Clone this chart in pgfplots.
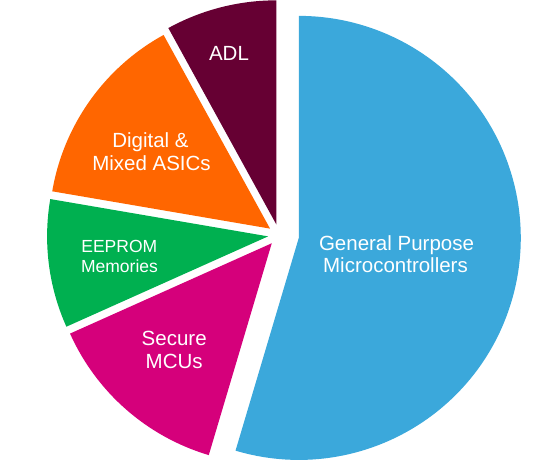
\documentclass[border=0pt]{standalone}
\usepackage{pgfplots}
\pgfplotsset{compat=1.18}
\usetikzlibrary{calc}
\usepackage{fontspec}
\setmainfont{Liberation Sans}
\definecolor{cBlue}{RGB}{59,168,219}
\definecolor{cMag}{RGB}{213,0,123}
\definecolor{cGreen}{RGB}{0,176,80}
\definecolor{cOrange}{RGB}{255,102,0}
\definecolor{cPurple}{RGB}{102,0,51}
% shares (percent), clockwise from 12 o'clock
\def\vA{54.6}% General Purpose Microcontrollers
\def\vB{13.7}% Secure MCUs
\def\vC{9.4}% EEPROM Memories
\def\vD{14.3}% Digital & Mixed ASICs
\def\vE{8.0}% ADL
\pgfmathsetmacro\aA{90}
\pgfmathsetmacro\aB{\aA-3.6*\vA}
\pgfmathsetmacro\aC{\aB-3.6*\vB}
\pgfmathsetmacro\aD{\aC-3.6*\vC}
\pgfmathsetmacro\aE{\aD-3.6*\vD}
\pgfmathsetmacro\aF{\aE-3.6*\vE}
\pgfmathsetmacro\mA{(\aA+\aB)/2}
\pgfmathsetmacro\mB{(\aB+\aC)/2}
\pgfmathsetmacro\mC{(\aC+\aD)/2}
\pgfmathsetmacro\mD{(\aD+\aE)/2}
\pgfmathsetmacro\mE{(\aE+\aF)/2}
\newcommand\lab{\fontsize{20.5bp}{23bp}\selectfont}
\newcommand\labs{\fontsize{17.5bp}{20bp}\selectfont}
\begin{document}%
\begin{tikzpicture}
\useasboundingbox (0,0) rectangle (553bp,463bp);
\clip (0,0) rectangle (553bp,463bp);
\begin{axis}[at={(0,0)}, anchor=south west, hide axis, scale only axis,
  width=553bp, height=463bp, xmin=0, xmax=553, ymin=0, ymax=463, clip=true]
\coordinate (C) at (axis cs:279,228);
\fill[cBlue]   ($(C)+(\mA:20bp)$) -- +(\aB:222bp) arc[start angle=\aB, end angle=\aA, radius=222bp] -- cycle;
\fill[cMag]    ($(C)+(\mB:11bp)$) -- +(\aC:221bp) arc[start angle=\aC, end angle=\aB, radius=221bp] -- cycle;
\fill[cGreen]  ($(C)+(\mC:11bp)$) -- +(\aD:221bp) arc[start angle=\aD, end angle=\aC, radius=221bp] -- cycle;
\fill[cOrange] ($(C)+(\mD:11bp)$) -- +(\aE:221bp) arc[start angle=\aE, end angle=\aD, radius=221bp] -- cycle;
\fill[cPurple] ($(C)+(\mE:11bp)$) -- +(\aF:224bp) arc[start angle=\aF, end angle=\aE, radius=224bp] -- cycle;
\node[anchor=base, text=white, font=\lab, inner sep=0pt] at (axis cs:396.5,212) {General Purpose};
\node[anchor=base, text=white, font=\lab, inner sep=0pt] at (axis cs:395.5,190.7) {Microcontrollers};
\node[anchor=base, text=white, font=\lab, inner sep=0pt] at (axis cs:229,402.3) {ADL};
\node[anchor=base, text=white, font=\lab, inner sep=0pt] at (axis cs:150.5,315.7) {Digital \&};
\node[anchor=base, text=white, font=\lab, inner sep=0pt] at (axis cs:151.5,292.3) {Mixed ASICs};
\node[anchor=base, text=white, font=\labs, inner sep=0pt] at (axis cs:119.3,210) {EEPROM};
\node[anchor=base, text=white, font=\labs, inner sep=0pt] at (axis cs:119.5,190) {Memories};
\node[anchor=base, text=white, font=\lab, inner sep=0pt] at (axis cs:174.2,117) {Secure};
\node[anchor=base, text=white, font=\lab, inner sep=0pt] at (axis cs:174.2,94.7) {MCUs};
\end{axis}
\end{tikzpicture}%
\end{document}
